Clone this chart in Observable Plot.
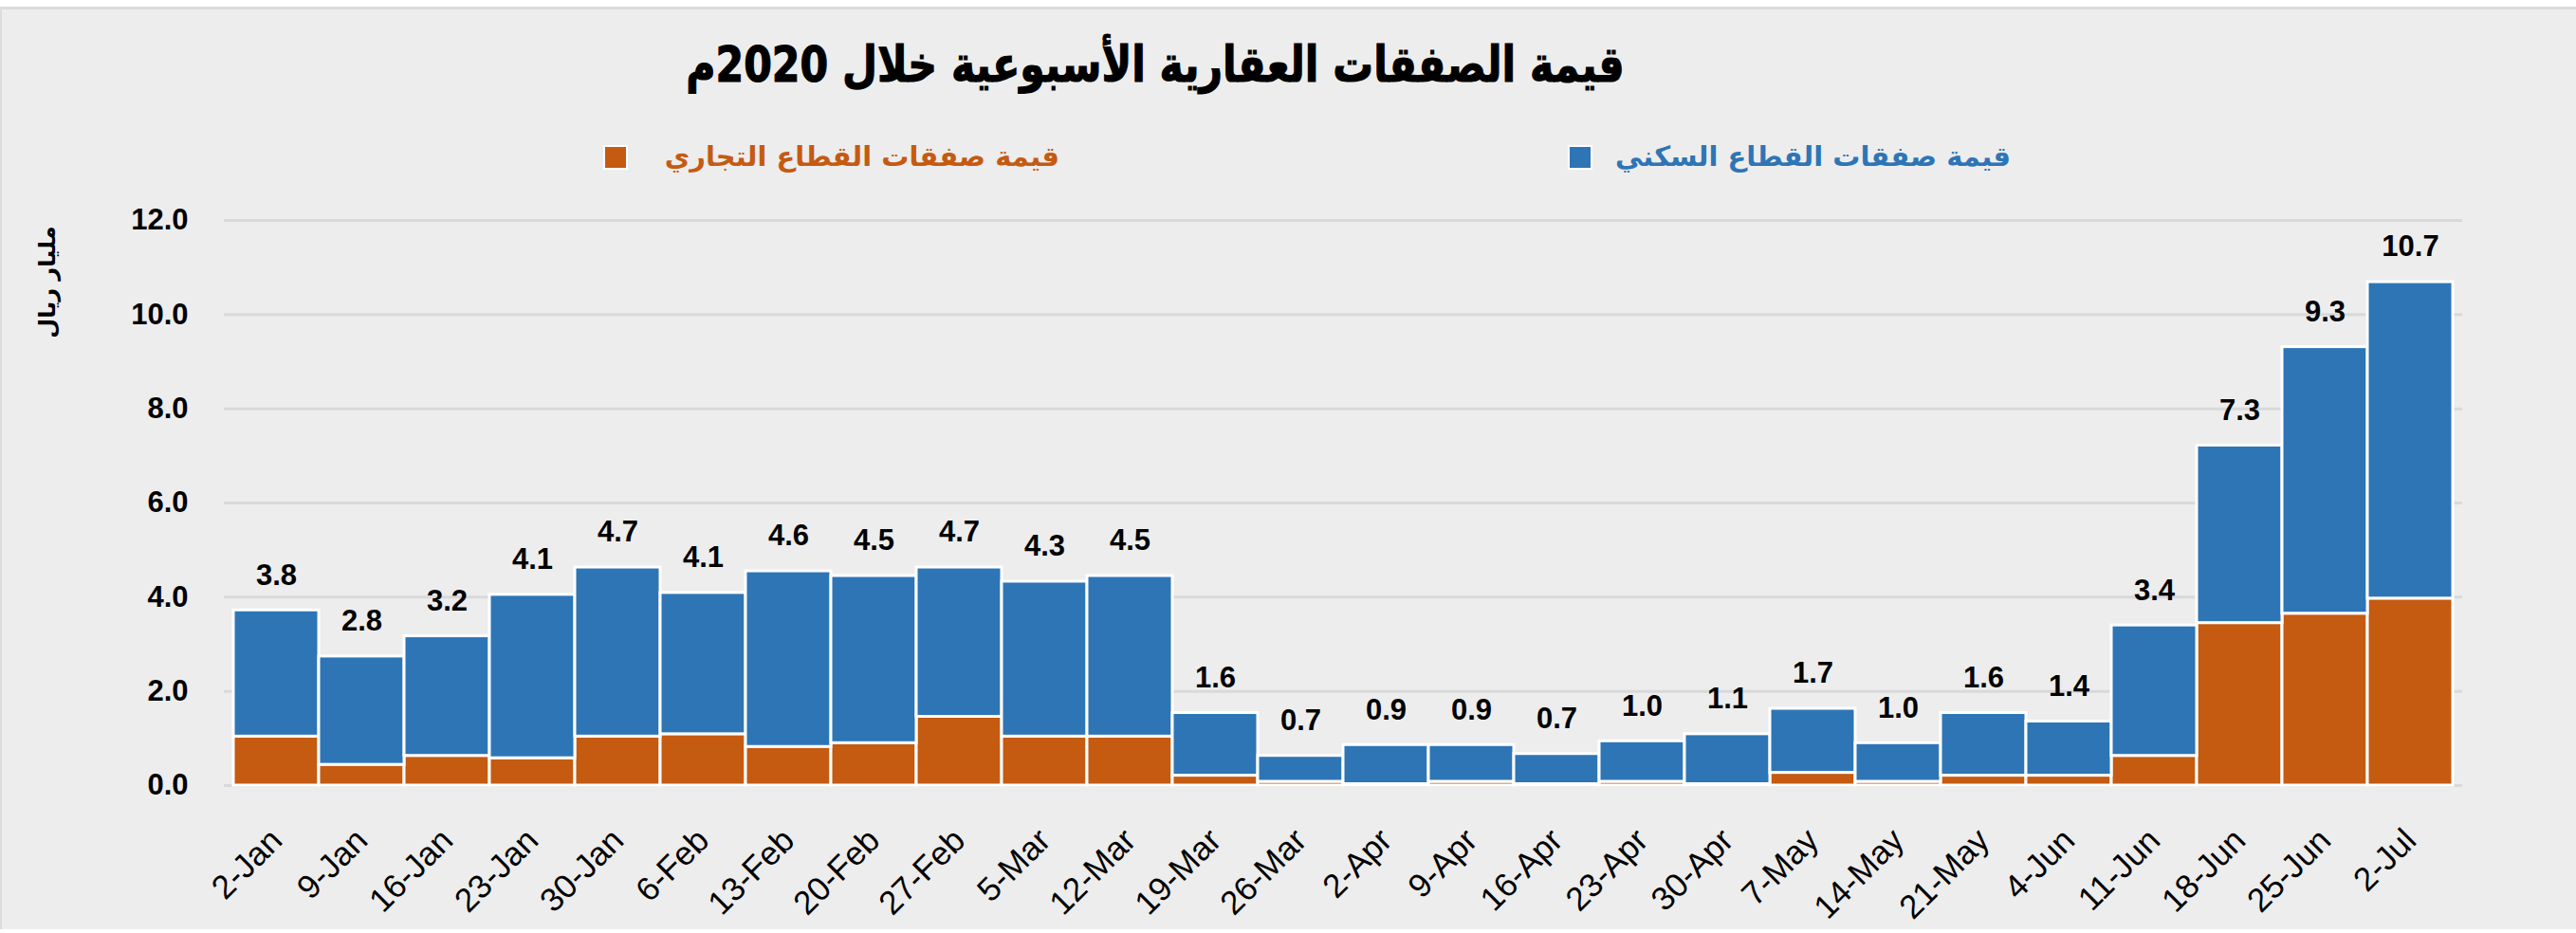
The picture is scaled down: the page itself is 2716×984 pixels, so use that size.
<!DOCTYPE html>
<html>
<head>
<meta charset="utf-8">
<script src="https://cdn.jsdelivr.net/npm/d3@7"></script>
<script src="https://cdn.jsdelivr.net/npm/@observablehq/plot@0.6"></script>
<style>
  html, body { margin: 0; padding: 0; background: #ffffff; }
  #wrap { position: relative; width: 2716px; height: 984px; overflow: hidden; background: #ffffff; }
  #frame { position: absolute; left: 0; top: 7px; width: 2714px; height: 970px; background: #EDEDED; border-top: 3px solid #DCDCDC; border-left: 2px solid #DCDCDC; }
  #title { position: absolute; left: 0; top: 28px; width: 2436px; text-align: center; direction: rtl;
           font-family: "DejaVu Sans", sans-serif; font-weight: bold; font-size: 52px; color: #000; line-height: 80px;
           transform: scaleX(0.82); transform-origin: 1218px 0; -webkit-text-stroke: 1.2px #000; }
  .leg { position: absolute; top: 143px; height: 44px; line-height: 44px; direction: rtl; white-space: nowrap;
         font-family: "DejaVu Sans", sans-serif; font-size: 29px; font-weight: bold; }
  .sw { position: absolute; width: 22px; height: 22px; top: 153px; border: 2px solid #ffffff; }
  #chart { position: absolute; left: 0; top: 200px; }
</style>
</head>
<body>
<div id="wrap">
  <div id="frame"></div>
  <div id="title"></div>
  <div class="sw" id="swC"></div>
  <div class="leg" id="legC"></div>
  <div class="sw" id="swR"></div>
  <div class="leg" id="legR"></div>
  <div id="chart"></div>
</div>
<script>
const titleText = "قيمة الصفقات العقارية الأسبوعية خلال 2020م";
const yLabel = "مليار ريال";
const seriesNames = ["قيمة صفقات القطاع التجاري", "قيمة صفقات القطاع السكني"];
const seriesColors = ["#C55A11", "#2E75B6"];

const weeks = ["2-Jan","9-Jan","16-Jan","23-Jan","30-Jan","6-Feb","13-Feb","20-Feb","27-Feb","5-Mar","12-Mar","19-Mar","26-Mar","2-Apr","9-Apr","16-Apr","23-Apr","30-Apr","7-May","14-May","21-May","4-Jun","11-Jun","18-Jun","25-Jun","2-Jul"];
const commercial = [1.04,0.44,0.63,0.58,1.04,1.09,0.82,0.90,1.46,1.04,1.04,0.21,0.08,0.03,0.08,0.03,0.08,0.03,0.27,0.08,0.21,0.21,0.63,3.45,3.65,3.97];
const residential = [2.68,2.30,2.54,3.47,3.59,3.00,3.73,3.55,3.17,3.29,3.41,1.33,0.55,0.83,0.78,0.64,0.86,1.06,1.36,0.82,1.33,1.15,2.77,3.77,5.66,6.72];
const totals = [3.8,2.8,3.2,4.1,4.7,4.1,4.6,4.5,4.7,4.3,4.5,1.6,0.7,0.9,0.9,0.7,1.0,1.1,1.7,1.0,1.6,1.4,3.4,7.3,9.3,10.7];
const yTicks = [0,2,4,6,8,10,12];

document.getElementById("title").textContent = titleText;
const legC = document.getElementById("legC");
legC.textContent = seriesNames[0];
legC.style.color = seriesColors[0];
legC.style.right = (2716 - 1117) + "px";
const legR = document.getElementById("legR");
legR.textContent = seriesNames[1];
legR.style.color = seriesColors[1];
legR.style.right = (2716 - 2120) + "px";
const swC = document.getElementById("swC");
swC.style.left = "636px"; swC.style.background = seriesColors[0];
const swR = document.getElementById("swR");
swR.style.left = "1653px"; swR.style.background = seriesColors[1];

const rows = [];
weeks.forEach((w, i) => rows.push({week: w, sector: seriesNames[0], value: commercial[i]}));
weeks.forEach((w, i) => rows.push({week: w, sector: seriesNames[1], value: residential[i]}));
const tops = weeks.map((w, i) => ({week: w, top: commercial[i] + residential[i], label: totals[i].toFixed(1)}));

const chart = Plot.plot({
  width: 2716,
  height: 784,
  marginLeft: 236,
  marginRight: 120,
  marginTop: 32,
  marginBottom: 156,
  style: {background: "transparent", fontFamily: "Liberation Sans, Arial, sans-serif", color: "#000"},
  x: {type: "band", domain: weeks, padding: 0, label: null},
  y: {domain: [0, 12], label: null},
  color: {domain: seriesNames, range: seriesColors},
  marks: [
    Plot.ruleY(yTicks, {stroke: "#D9D9D9", strokeWidth: 3}),
    Plot.barY(rows, {x: "week", y: "value", fill: "sector", stroke: "#ffffff", strokeWidth: 3, order: seriesNames, inset: 0}),
    Plot.text(tops, {x: "week", y: "top", text: "label", dy: -37, fontSize: 31, fontWeight: "bold", fill: "#000", lineAnchor: "middle"}),
    Plot.axisY({ticks: yTicks, tickSize: 0, tickPadding: 38, tickFormat: d => d.toFixed(1), fontSize: 31, fontWeight: "bold", fill: "#000"}),
    Plot.axisX({tickSize: 0, tickRotate: -45, tickPadding: 52, fontSize: 35, fill: "#000"}),
    Plot.text([yLabel], {frameAnchor: "top-left", dx: -186, dy: 65, rotate: -90, fontSize: 24, fontWeight: "bold", fontFamily: "DejaVu Sans", fill: "#000", textAnchor: "middle", lineAnchor: "middle"})
  ]
});
document.getElementById("chart").appendChild(chart);
</script>
</body>
</html>
